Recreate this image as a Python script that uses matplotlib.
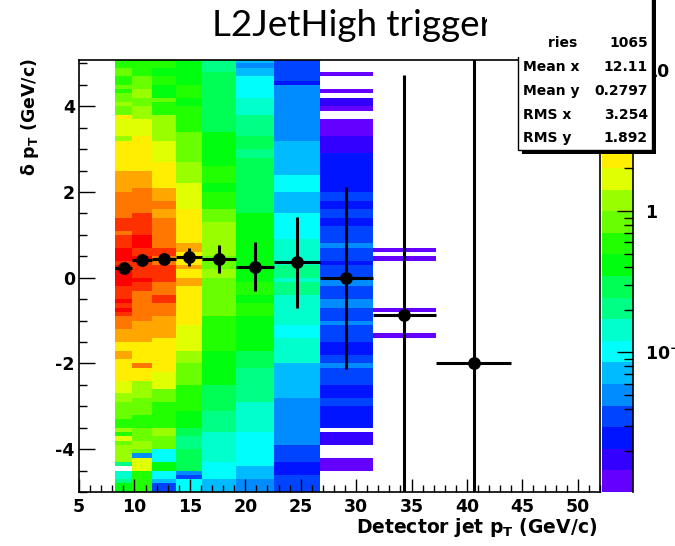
import colorsys
import numpy as np
import matplotlib
matplotlib.use("Agg")
import matplotlib.pyplot as plt
from matplotlib.colors import ListedColormap, LogNorm
from matplotlib.patches import Rectangle
from matplotlib.lines import Line2D
from matplotlib.ticker import MultipleLocator, LogLocator, NullFormatter

# ---------------- data ----------------
x_edges = [8.25, 9.78, 11.59, 13.75, 16.1, 19.17, 22.6, 26.75, 31.5, 37.2, 44.0]
y_min, y_max, y_bin = -5.0, 5.1, 0.1

# (y_top, y_bottom, content) stripes per x column
col1 = [(5.1, 4.9, 0.59), (4.9, 4.7, 0.84), (4.7, 4.5, 0.59), (4.5, 4.4, 0.84), (4.4, 4.3, 0.59),
        (4.3, 4.1, 0.84), (4.1, 4.0, 1.2), (4.0, 3.8, 0.84), (3.8, 3.7, 2.4), (3.7, 3.3, 1.7),
        (3.3, 3.2, 1.2), (3.2, 2.5, 2.4), (2.5, 2.0, 3.4), (2.0, 1.4, 4.9), (1.4, 1.1, 6.9),
        (1.1, 1.0, 4.9), (1.0, 0.7, 6.9), (0.7, 0.4, 9.8), (0.4, 0.3, 6.9), (0.3, -0.2, 9.8),
        (-0.2, -0.5, 6.9), (-0.5, -0.6, 9.8), (-0.6, -0.7, 6.9), (-0.7, -0.8, 9.8), (-0.8, -0.9, 6.9),
        (-0.9, -1.2, 4.9), (-1.2, -1.5, 3.4), (-1.5, -1.7, 2.4), (-1.7, -1.9, 3.4), (-1.9, -2.4, 2.4),
        (-2.4, -2.7, 1.7), (-2.7, -2.9, 1.2), (-2.9, -3.3, 0.84), (-3.3, -3.5, 0.59), (-3.5, -3.6, 1.2),
        (-3.6, -3.7, 0.59), (-3.7, -3.8, 1.7), (-3.8, -3.9, 0.84), (-3.9, -4.3, 1.2), (-4.3, -4.4, 0.20),
        (-4.5, -4.7, 0.14), (-4.7, -4.8, 0.20), (-4.8, -5.0, 0.41)]
col2 = [(5.1, 4.7, 0.59), (4.7, 4.4, 0.84), (4.4, 4.2, 1.2), (4.2, 4.0, 0.84), (4.0, 3.7, 1.2),
        (3.7, 3.3, 1.7), (3.3, 2.5, 2.4), (2.5, 2.1, 3.4), (2.1, 1.5, 4.9), (1.5, 1.0, 6.9),
        (1.0, 0.7, 9.8), (0.7, 0.5, 6.9), (0.5, 0.4, 9.8), (0.4, 0.0, 6.9), (0.0, -0.1, 9.8),
        (-0.1, -0.3, 6.9), (-0.3, -1.0, 4.9), (-1.0, -1.5, 3.4), (-1.5, -2.0, 2.4), (-2.0, -2.1, 4.9),
        (-2.1, -2.4, 2.4), (-2.4, -2.8, 1.2), (-2.8, -3.2, 0.84), (-3.2, -3.5, 0.59), (-3.5, -3.8, 0.84),
        (-3.8, -4.0, 1.2), (-4.0, -4.1, 0.84), (-4.1, -4.2, 0.05), (-4.2, -4.5, 1.7), (-4.5, -5.0, 0.59)]
col3 = [(5.1, 4.9, 0.59), (4.9, 4.7, 0.41), (4.7, 4.5, 0.59), (4.5, 4.2, 0.41), (4.2, 4.1, 0.84),
        (4.1, 3.8, 0.59), (3.8, 3.2, 1.2), (3.2, 2.7, 1.7), (2.7, 2.1, 2.4), (2.1, 1.8, 3.4),
        (1.8, 1.6, 4.9), (1.6, 1.4, 3.4), (1.4, 0.7, 4.9), (0.7, 0.5, 6.9), (0.5, 0.3, 4.9),
        (0.3, -0.1, 6.9), (-0.1, -0.4, 4.9), (-0.4, -0.6, 6.9), (-0.6, -0.9, 4.9), (-0.9, -1.4, 3.4),
        (-1.4, -2.2, 2.4), (-2.2, -2.6, 1.7), (-2.6, -2.9, 0.84), (-2.9, -3.5, 0.59), (-3.5, -3.7, 1.2),
        (-3.7, -4.0, 0.84), (-4.0, -4.3, 0.10), (-4.3, -4.5, 0.41), (-4.5, -4.7, 0.10), (-4.7, -4.8, 0.071),
        (-4.8, -5.0, 0.035)]
col4 = [(5.1, 4.5, 0.41), (4.5, 4.2, 0.59), (4.2, 4.0, 0.41), (4.0, 3.4, 0.59), (3.4, 2.7, 0.84),
        (2.7, 2.2, 1.2), (2.2, 1.6, 1.7), (1.6, 0.8, 2.4), (0.8, 0.6, 3.4), (0.6, 0.3, 2.4),
        (0.3, 0.2, 3.4), (0.2, 0.0, 2.4), (0.0, -0.2, 3.4), (-0.2, -1.1, 2.4), (-1.1, -1.7, 1.7),
        (-1.7, -2.0, 1.2), (-2.0, -2.5, 0.84), (-2.5, -3.1, 0.59), (-3.1, -3.5, 0.41), (-3.5, -3.7, 0.29),
        (-3.7, -4.0, 0.20), (-4.0, -4.5, 0.29), (-4.5, -4.6, 0.05), (-4.6, -4.7, 0.035), (-4.7, -5.0, 0.10)]
col5 = [(5.1, 4.8, 0.20), (4.8, 3.4, 0.29), (3.4, 2.6, 0.41), (2.6, 2.2, 0.59), (2.2, 2.0, 0.41),
        (2.0, 1.6, 0.59), (1.6, 1.3, 0.84), (1.3, 0.5, 1.2), (0.5, 0.2, 0.84), (0.2, 0.0, 1.2),
        (0.0, -0.9, 0.84), (-0.9, -1.7, 0.59), (-1.7, -2.5, 0.41), (-2.5, -3.1, 0.29), (-3.1, -3.6, 0.20),
        (-3.6, -4.3, 0.14), (-4.3, -4.7, 0.10), (-4.7, -5.0, 0.071)]
col6 = [(5.1, 5.0, 0.071), (5.0, 4.9, 0.05), (4.9, 4.7, 0.071), (4.7, 4.2, 0.10), (4.2, 3.8, 0.14),
        (3.8, 3.3, 0.20), (3.3, 3.0, 0.29), (3.0, 2.8, 0.20), (2.8, 1.5, 0.29), (1.5, -0.1, 0.41),
        (-0.1, -0.4, 0.59), (-0.4, -0.6, 0.41), (-0.6, -0.9, 0.59), (-0.9, -1.7, 0.41), (-1.7, -2.1, 0.29),
        (-2.1, -2.9, 0.20), (-2.9, -3.6, 0.14), (-3.6, -4.4, 0.10), (-4.4, -4.7, 0.071), (-4.7, -5.0, 0.05)]
col7 = [(5.1, 4.6, 0.035), (4.6, 4.5, 0.025), (4.5, 3.2, 0.05), (3.2, 2.4, 0.071), (2.4, 2.0, 0.10),
        (2.0, 1.5, 0.071), (1.5, 0.9, 0.10), (0.9, 0.3, 0.14), (0.3, 0.0, 0.20), (0.0, -0.1, 0.14),
        (-0.1, -0.4, 0.20), (-0.4, -1.1, 0.14), (-1.1, -1.4, 0.10), (-1.4, -2.0, 0.14), (-2.0, -2.8, 0.071),
        (-2.8, -3.9, 0.05), (-3.9, -4.3, 0.035), (-4.3, -4.6, 0.025), (-4.6, -5.0, 0.035)]
col8 = [(4.8, 4.7, 0.012), (4.4, 4.3, 0.012), (4.2, 4.0, 0.018), (4.0, 3.9, 0.012), (3.7, 3.3, 0.012),
        (3.3, 2.9, 0.018), (2.9, 2.0, 0.025), (2.0, 1.8, 0.035), (1.8, 1.6, 0.025), (1.6, 1.4, 0.035),
        (1.4, 1.2, 0.025), (1.2, 0.8, 0.035), (0.8, 0.7, 0.05), (0.7, 0.4, 0.035), (0.4, 0.3, 0.025),
        (0.3, 0.0, 0.035), (0.0, -0.2, 0.05), (-0.2, -0.5, 0.035), (-0.5, -0.7, 0.05), (-0.7, -1.0, 0.035),
        (-1.0, -1.1, 0.05), (-1.1, -1.5, 0.035), (-1.5, -1.8, 0.025), (-1.8, -2.0, 0.035), (-2.0, -2.1, 0.05),
        (-2.1, -2.5, 0.035), (-2.5, -2.8, 0.025), (-2.8, -3.0, 0.035), (-3.0, -3.5, 0.025), (-3.6, -3.9, 0.018),
        (-4.2, -4.5, 0.012)]
col9 = [(0.7, 0.6, 0.012), (0.5, 0.4, 0.012), (-0.7, -0.8, 0.012), (-1.3, -1.4, 0.012)]
col10 = []
columns = [col1, col2, col3, col4, col5, col6, col7, col8, col9, col10]

z_min, z_max = 0.0103, 11.7

# profile points
prof_y = [0.23, 0.42, 0.44, 0.48, 0.43, 0.26, 0.36, -0.01, -0.86, -1.99]
prof_yerr = [0.07, 0.07, 0.12, 0.21, 0.33, 0.58, 1.06, 2.13, 5.6, 9.0]

stat_names = ["Entries", "Mean x", "Mean y", "RMS x", "RMS y"]
stat_values = ["1065", "12.11", "0.2797", "3.254", "1.892"]

title_text = "L2JetHigh trigger"
x_title = "Detector jet p$_{T}$ (GeV/c)"
y_title = "\u03b4 p$_{T}$ (GeV/c)"

# ---------------- style ----------------
plt.rcParams["font.family"] = ["DejaVu Sans"]
plt.rcParams["font.weight"] = "bold"
plt.rcParams["mathtext.fontset"] = "dejavusans"
plt.rcParams["mathtext.default"] = "bf"
plt.rcParams["axes.unicode_minus"] = False

W, H = 675, 546
fig = plt.figure(figsize=(W / 100, H / 100), dpi=100)
fig.patch.set_facecolor("white")


def fx(px):
    return px / W


def fy(py):
    return 1 - py / H


ax_l, ax_r, ax_t, ax_b = 79, 600, 60, 492
ax = fig.add_axes([fx(ax_l), fy(ax_b), (ax_r - ax_l) / W, (ax_b - ax_t) / H])

# ROOT "pretty" palette, 20 contour levels
ncont = 20
pal = []
for i in range(ncont):
    k = int((i + 0.99) * 50 / ncont)
    hue = 280 - (k + 1) * 280 / 50
    pal.append(colorsys.hls_to_rgb(hue / 360.0, 0.5, 1.0))
cmap = ListedColormap(pal)
norm = LogNorm(vmin=z_min, vmax=z_max)

y_edges = np.round(np.arange(y_min, y_max + y_bin / 2, y_bin), 3)
y_cent = 0.5 * (y_edges[:-1] + y_edges[1:])
Z = np.full((len(y_cent), len(columns)), np.nan)
for j, segs in enumerate(columns):
    for top, bot, val in segs:
        m = (y_cent < top) & (y_cent > bot)
        Z[m, j] = val

mesh = ax.pcolormesh(x_edges, y_edges, np.ma.masked_invalid(Z), cmap=cmap, norm=norm,
                     edgecolors="none", linewidth=0, antialiased=False, zorder=1)

xe = np.array(x_edges)
px = 0.5 * (xe[:-1] + xe[1:])
pxerr = 0.5 * (xe[1:] - xe[:-1])
ax.errorbar(px, prof_y, xerr=pxerr, yerr=prof_yerr, fmt="o", color="black",
            ms=8.2, elinewidth=2.2, capsize=0, zorder=3)

ax.set_xlim(5, 52)
ax.set_ylim(-5, 5.08)
ax.xaxis.set_major_locator(MultipleLocator(5))
ax.xaxis.set_minor_locator(MultipleLocator(1))
ax.yaxis.set_major_locator(MultipleLocator(2))
ax.yaxis.set_minor_locator(MultipleLocator(0.5))
ax.tick_params(axis="x", which="major", direction="in", length=9.4, width=1.0, top=False,
               labelsize=12.5, pad=4)
ax.tick_params(axis="x", which="minor", direction="in", length=4.7, width=1.0, top=False)
ax.tick_params(axis="y", which="major", direction="in", length=11.3, width=1.0, right=False,
               labelsize=12.5, pad=3)
ax.tick_params(axis="y", which="minor", direction="in", length=5.6, width=1.0, right=False)
for sp in ax.spines.values():
    sp.set_linewidth(1.2)
    sp.set_color("black")

# colour bar
cax = fig.add_axes([fx(602), fy(ax_b), 31 / W, (ax_b - ax_t) / H])
cbar = fig.colorbar(mesh, cax=cax)
cbar.outline.set_visible(False)
cbar.set_ticks([0.1, 1, 10], labels=["10$^{-1}$", "1", "10"])
cax.yaxis.set_minor_locator(LogLocator(base=10, subs=np.arange(2, 10)))
cax.yaxis.set_minor_formatter(NullFormatter())
cax.tick_params(axis="y", which="major", direction="in", length=11.5, width=1.0,
                right=True, left=False, labelright=True, labelleft=False, labelsize=12.5, pad=8.5)
cax.tick_params(axis="y", which="minor", direction="in", length=6.7, width=1.0,
                right=True, left=False)
cax.add_line(Line2D([1, 1], [0, 1], transform=cax.transAxes, color="black", lw=1.2, clip_on=False))

# axis titles
fig.text(fx(597), fy(533), x_title, ha="right", va="baseline", fontsize=13.5)
fig.text(fx(30), fy(58), y_title, ha="center", va="top", rotation=90, fontsize=12.5)

# stats box
bx0, bx1, by0, by1 = 518, 652, -10, 150
fig.patches.append(Rectangle((fx(bx0 + 4), fy(by1 + 4)), (bx1 - bx0) / W, (by1 - by0) / H,
                             transform=fig.transFigure, facecolor="black", edgecolor="none", zorder=2))
fig.patches.append(Rectangle((fx(bx0), fy(by1)), (bx1 - bx0) / W, (by1 - by0) / H,
                             transform=fig.transFigure, facecolor="white", edgecolor="black",
                             lw=1.0, zorder=2.1))
row_y = [43, 67, 91, 115, 138]
for name, val, ry in zip(stat_names, stat_values, row_y):
    fig.text(fx(523), fy(ry), name, ha="left", va="center", fontsize=10, zorder=3)
    fig.text(fx(648), fy(ry), val, ha="right", va="center", fontsize=10, zorder=3)

# white title box laid over the top of the plot
fig.patches.append(Rectangle((0, fy(57)), fx(548), 57 / H, transform=fig.transFigure,
                             facecolor="white", edgecolor="none", zorder=4))
fig.text(fx(212), fy(36), title_text, ha="left", va="baseline", fontsize=26.5,
         family="Lato", weight="normal", color="black", zorder=5)
fig.patches.append(Rectangle((fx(487), fy(57)), fx(548) - fx(487), 57 / H, transform=fig.transFigure,
                             facecolor="white", edgecolor="none", zorder=6))

fig.savefig("out.png", dpi=100, facecolor="white")
